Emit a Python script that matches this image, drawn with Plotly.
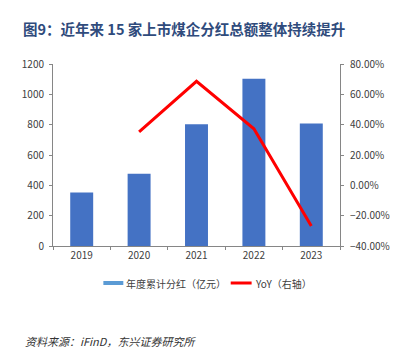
import plotly.graph_objects as go

years = ["2019", "2020", "2021", "2022", "2023"]
dividends = [352, 477, 803, 1103, 808]
yoy = [None, 35.3, 68.6, 37.3, -26.8]

title_text = "图9：近年来 15 家上市煤企分红总额整体持续提升"
bar_name = "年度累计分红（亿元）"
line_name = "YoY（右轴）"
source_text = "资料来源：iFinD，东兴证券研究所"

FONT = "Noto Sans CJK SC"
AX = "#868686"

fig = go.Figure()
fig.add_trace(go.Bar(x=years, y=dividends, name=bar_name, marker_color="#4472C4",
                     marker_line_width=0, width=0.4, showlegend=False))
fig.add_trace(go.Scatter(x=years, y=yoy, name=line_name, mode="lines",
                         line=dict(color="#FF0000", width=3), yaxis="y2", showlegend=False))

W, H = 402, 352
ml, mr, mt, mb = 53, 47, 64, 106
fig.update_layout(
    width=W, height=H,
    margin=dict(l=ml, r=mr, t=mt, b=mb),
    paper_bgcolor="white", plot_bgcolor="white",
    font=dict(family=FONT, size=10, color="#404040"),
    xaxis=dict(type="category", showline=True, linecolor=AX, linewidth=1,
               ticks="outside", tickson="boundaries", ticklen=3, tickcolor=AX,
               showgrid=False, tickfont=dict(size=10, color="#404040")),
    yaxis=dict(range=[0, 1200], dtick=200, showline=True, linecolor=AX, linewidth=1,
               ticks="outside", ticklen=3, tickcolor=AX, showgrid=False, zeroline=False,
               tickfont=dict(size=10, color="#404040"), ticklabelstandoff=3),
    yaxis2=dict(range=[-40, 80], dtick=20, overlaying="y", side="right",
                showline=True, linecolor=AX, linewidth=1, ticks="outside", ticklen=3,
                tickcolor=AX, showgrid=False, zeroline=False, ticklabelstandoff=4,
                tickformat=".2f", ticksuffix="%", tickfont=dict(size=10, color="#404040")),
    showlegend=False,
)

ph = H - mt - mb
def py(pix):
    return (H - mb - pix) / ph
pw = W - ml - mr
def px(pix):
    return (pix - ml) / pw

# title
fig.add_annotation(xref="paper", yref="paper", x=px(19), y=py(28), xanchor="left", yanchor="middle",
                   text="<b>" + title_text + "</b>", showarrow=False,
                   font=dict(family=FONT, size=14.5, color="#2F4B7C"))

# legend
fig.add_shape(type="rect", xref="paper", yref="paper", x0=px(106), x1=px(127),
              y0=py(281), y1=py(285), fillcolor="#5B9BD5", line_width=0)
fig.add_annotation(xref="paper", yref="paper", x=px(128), y=py(283), xanchor="left", yanchor="middle",
                   text=bar_name, showarrow=False, font=dict(family=FONT, size=10, color="#404040"))
fig.add_shape(type="line", xref="paper", yref="paper", x0=px(240), x1=px(262),
              y0=py(283), y1=py(283), line=dict(color="#FF0000", width=3))
fig.add_annotation(xref="paper", yref="paper", x=px(263), y=py(283), xanchor="left", yanchor="middle",
                   text=line_name, showarrow=False, font=dict(family=FONT, size=10, color="#404040"))

# source
fig.add_annotation(xref="paper", yref="paper", x=px(21), y=py(341), xanchor="left", yanchor="middle",
                   text="<i>" + source_text + "</i>", showarrow=False,
                   font=dict(family=FONT, size=11, color="#333333"))

fig.write_html("out.html")
